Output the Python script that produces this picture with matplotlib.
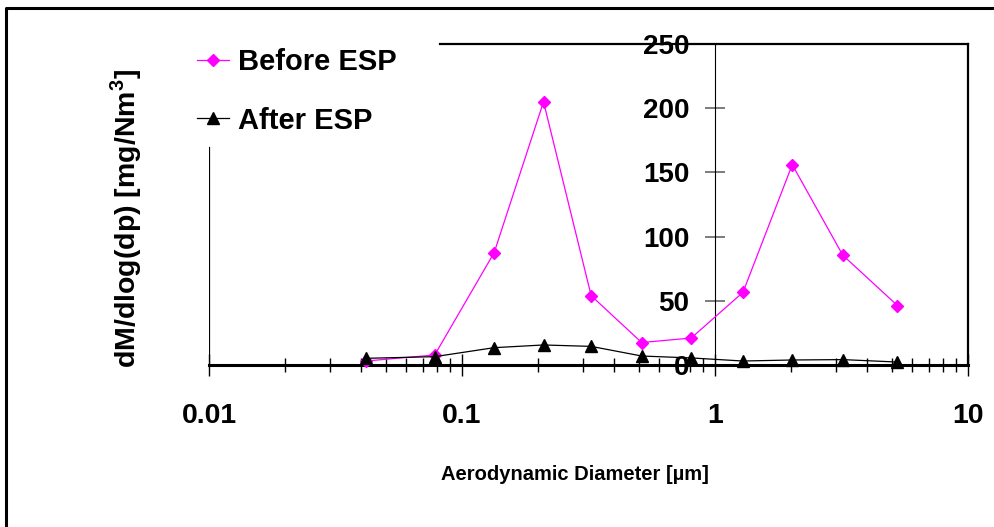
import numpy as np
import matplotlib
matplotlib.use('Agg')
import matplotlib.pyplot as plt
from matplotlib.lines import Line2D
from matplotlib.ticker import LogLocator, FixedLocator, FuncFormatter, NullFormatter

# Data
diameter = [0.0417, 0.078, 0.134, 0.21, 0.324, 0.513, 0.805, 1.29, 2.02, 3.2, 5.26]
before_esp = [3.1, 7.8, 87.5, 205, 54, 17.5, 21, 56.6, 156, 85.5, 46.3]
after_esp = [5.2, 6.5, 13.5, 15.6, 14.5, 7.0, 5.5, 3.1, 3.9, 4.2, 2.3]
y_ticks = [0, 50, 100, 150, 200, 250]
x_ticks = [0.01, 0.1, 1, 10]
x_tick_labels = ['0.01', '0.1', '1', '10']

xlabel = 'Aerodynamic Diameter [\u00b5m]'
ylabel = 'dM/dlog(dp) [mg/Nm$^\\mathbf{3}$]'

plt.rcParams.update({'font.family': ['Liberation Sans', 'DejaVu Sans'],
                     'font.weight': 'bold', 'mathtext.fontset': 'custom',
                     'mathtext.bf': 'Liberation Sans:bold',
                     'mathtext.rm': 'Liberation Sans:bold'})

fig = plt.figure(figsize=(9.94, 5.27), dpi=100)
ax = fig.add_axes([209 / 994, 1 - 365 / 527, (968 - 209) / 994, (365 - 44) / 527])

ax.plot(diameter, before_esp, color='#ff00ff', lw=0.9, marker='D', ms=6,
        mec='#ff00ff', mfc='#ff00ff', label='Before ESP', clip_on=False, zorder=3)
ax.plot(diameter, after_esp, color='black', lw=0.9, marker='^', ms=8.5,
        mec='black', mfc='black', label='After ESP', clip_on=False, zorder=4)

ax.set_xscale('log')
ax.set_xlim(0.01, 10)
ax.set_ylim(0, 250)

# x axis ticks
ax.xaxis.set_major_locator(FixedLocator(x_ticks))
ax.xaxis.set_major_formatter(FuncFormatter(lambda v, p: x_tick_labels[x_ticks.index(v)] if v in x_ticks else ''))
ax.xaxis.set_minor_locator(LogLocator(base=10, subs=np.arange(2, 10)))
ax.xaxis.set_minor_formatter(NullFormatter())
ax.tick_params(axis='x', which='major', direction='inout', length=16, width=1,
               color='black', pad=19.5, labelsize=20.5)
ax.tick_params(axis='x', which='minor', direction='inout', length=10, width=1, color='black')

# y axis sits at x = 1
ax.set_yticks(y_ticks)
ax.spines['left'].set_position(('data', 1))
ax.spines['left'].set_linewidth(0.8)
ax.tick_params(axis='y', direction='inout', length=14, width=1.2, color='0.4',
               pad=11.5, labelsize=20)

# frame pieces
ax.spines['bottom'].set_linewidth(2.2)
ax.spines['top'].set_linewidth(1.6)
ax.spines['right'].set_linewidth(1.6)
ax.spines['top'].set_bounds(0.082, 10)
ax.axvline(0.01, ymax=(365 - 148) / 321, color='black', lw=1.6)

for lab in ax.get_xticklabels() + ax.get_yticklabels():
    lab.set_fontweight('bold')

leg = ax.legend(loc='upper left', bbox_to_anchor=(197 / 994, 1 - 48 / 527),
                bbox_transform=fig.transFigure, frameon=False, borderpad=0,
                borderaxespad=0, handlelength=1.1, handletextpad=0.3,
                labelspacing=1.05, prop={'weight': 'bold', 'size': 21})

fig.text(126 / 994, 1 - 218.5 / 527, ylabel, rotation=90, ha='center', va='center',
         fontsize=20.5, fontweight='bold')
fig.text(574.5 / 994, 1 - 474 / 527, xlabel, ha='center', va='center',
         fontsize=14.5, fontweight='bold')

# outer border of the picture
fig.add_artist(Line2D([5.5 / 994, 5.5 / 994, 1.0], [0.0, 1 - 7.5 / 527, 1 - 7.5 / 527],
                      transform=fig.transFigure, color='black', lw=2.2))

plt.savefig('out.png', dpi=100)
